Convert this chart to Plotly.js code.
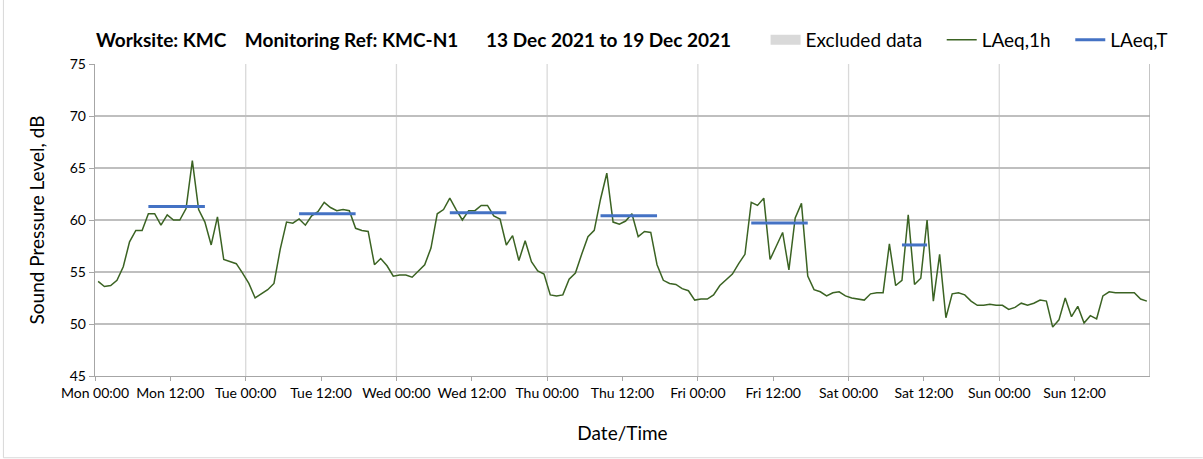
<!DOCTYPE html>
<html>
<head>
<meta charset="utf-8">
<script src="https://cdn.plot.ly/plotly-3.0.1.min.js"></script>
<style>
html,body{margin:0;padding:0;background:#fff;}
#chart{width:1203px;height:459px;}
</style>
</head>
<body>
<div id="chart"></div>
<script>
// Tick labels (every 12 hours)
const tickLabels = ["Mon 00:00","Mon 12:00","Tue 00:00","Tue 12:00","Wed 00:00","Wed 12:00",
  "Thu 00:00","Thu 12:00","Fri 00:00","Fri 12:00","Sat 00:00","Sat 12:00","Sun 00:00","Sun 12:00"];

// Hourly LAeq,1h values, dB (Mon 00:00 .. Sun 23:00)
const laeq1hMon = [54.1,53.6,53.7,54.2,55.5,57.9,59.0,59.0,60.6,60.6,59.5,60.5,60.0,60.0,61.1,65.7,61.0,59.8,57.6,60.3,56.2,56.0,55.8,54.9];
const laeq1hTue = [53.9,52.5,52.9,53.3,53.9,57.2,59.8,59.7,60.1,59.5,60.4,60.8,61.7,61.2,60.9,61.0,60.9,59.2,59.0,58.9,55.7,56.3,55.6,54.6];
const laeq1hWed = [54.7,54.7,54.5,55.1,55.7,57.3,60.6,61.0,62.1,61.0,60.0,60.9,60.9,61.4,61.4,60.4,60.1,57.6,58.5,56.1,58.0,56.0,55.1,54.8];
const laeq1hThu = [52.8,52.7,52.8,54.3,54.9,56.7,58.4,59.0,62.0,64.5,59.8,59.6,59.9,60.6,58.4,58.9,58.8,55.7,54.2,53.9,53.8,53.4,53.2,52.3];
const laeq1hFri = [52.4,52.4,52.8,53.7,54.3,54.8,55.8,56.7,61.7,61.4,62.1,56.2,57.5,58.8,55.2,60.2,61.6,54.6,53.3,53.1,52.7,53.0,53.1,52.7];
const laeq1hSat = [52.5,52.4,52.3,52.9,53.0,53.0,57.7,53.7,54.2,60.5,53.8,54.4,60.0,52.2,56.7,50.6,52.9,53.0,52.8,52.2,51.8,51.8,51.9,51.8];
const laeq1hSun = [51.8,51.4,51.6,52.0,51.8,52.0,52.3,52.2,49.7,50.4,52.5,50.7,51.7,50.1,50.8,50.5,52.7,53.1,53.0,53.0,53.0,53.0,52.4,52.2];

// LAeq,T periods: start hour index, end hour index (inclusive), value dB
const laeqTStart = [8, 32, 56, 80, 104, 128];
const laeqTEnd   = [17, 41, 65, 89, 113, 132];
const laeqTValue = [61.3, 60.6, 60.7, 60.4, 59.7, 57.6];

// Excluded data (none in this period)
const excludedHours = [];
const excludedValues = [];

// ---- build traces ----
const laeq1h = [].concat(laeq1hMon, laeq1hTue, laeq1hWed, laeq1hThu, laeq1hFri, laeq1hSat, laeq1hSun);
const hourX = laeq1h.map((v, i) => i + 0.5);

const tX = [], tY = [];
laeqTStart.forEach((s, k) => {
  for (let h = s; h <= laeqTEnd[k]; h++) { tX.push(h + 0.5); tY.push(laeqTValue[k]); }
  tX.push(laeqTEnd[k] + 1); tY.push(null);
});

const tickVals = tickLabels.map((t, i) => i * 12);

const shapes = [];
for (let d = 1; d <= 6; d++) {
  shapes.push({type:'line', xref:'x', yref:'paper', x0:d*24, x1:d*24, y0:0, y1:1,
    line:{color:'#d9d9d9', width:1.3}, layer:'below'});
}
shapes.push({type:'line', xref:'x', yref:'paper', x0:168, x1:168, y0:0, y1:1,
  line:{color:'#a6a6a6', width:1.3}});
// outer chart frame (left & bottom)
shapes.push({type:'line', xref:'paper', yref:'paper', x0:-0.0868, x1:-0.0868, y0:-0.262, y1:1.21,
  line:{color:'#d9d9d9', width:1}});
shapes.push({type:'line', xref:'paper', yref:'paper', x0:-0.0868, x1:1.05, y0:-0.262, y1:-0.262,
  line:{color:'#d9d9d9', width:1}});

const sp = '\u00a0\u00a0\u00a0';
const traces = [
  {type:'scatter', mode:'lines', name:'Excluded data' + sp,
   x:excludedHours.length?excludedHours:[0.5], y:excludedValues.length?excludedValues:[null],
   line:{color:'#d9d9d9', width:12}, hoverinfo:'skip'},
  {type:'scatter', mode:'lines', name:'LAeq,1h' + sp, x:hourX, y:laeq1h,
   line:{color:'#3b6323', width:1.5}},
  {type:'scatter', mode:'lines', name:'LAeq,T', x:tX, y:tY,
   line:{color:'#4472c4', width:3}, connectgaps:false}
];

const font = "Lato, 'Open Sans', sans-serif";
const layout = {
  width:1203, height:459,
  margin:{l:95, r:53, t:64, b:83},
  paper_bgcolor:'#ffffff', plot_bgcolor:'#ffffff',
  font:{family:font, color:'#000'},
  showlegend:true,
  title:{text:'<b>Worksite: KMC\u00a0\u00a0\u00a0\u00a0Monitoring Ref: KMC-N1\u00a0\u00a0\u00a0\u00a0\u00a0\u00a013 Dec 2021 to 19 Dec 2021</b>',
    x:96/1203, xanchor:'left', xref:'container', y:1-40/459, yanchor:'middle',
    font:{family:font, size:19, color:'#000'}},
  legend:{orientation:'h', x:1.0214, xanchor:'right', y:1.077, yanchor:'middle',
    font:{family:font, size:19, color:'#000'}, bgcolor:'rgba(0,0,0,0)', itemwidth:30, traceorder:'normal'},
  xaxis:{range:[0,168], tickvals:tickVals, ticktext:tickLabels, showgrid:false, zeroline:false,
    showline:true, linecolor:'#a6a6a6', linewidth:1.3, ticks:'outside', ticklen:4, tickcolor:'#a6a6a6',
    tickfont:{family:font, size:14, color:'#000'},
    title:{text:'Date/Time', font:{family:font, size:19, color:'#000'}, standoff:26}},
  yaxis:{range:[45,75], dtick:5, showgrid:true, gridcolor:'#bfbfbf', gridwidth:1.3, zeroline:false,
    showline:true, linecolor:'#a6a6a6', linewidth:1.3, ticks:'outside', ticklen:5, tickcolor:'#a6a6a6',
    tickfont:{family:font, size:14, color:'#000'},
    title:{text:'Sound Pressure Level, dB', font:{family:font, size:19, color:'#000'}, standoff:20}},
  shapes:shapes
};

Plotly.newPlot('chart', traces, layout, {displayModeBar:false, staticPlot:true});
</script>
</body>
</html>
